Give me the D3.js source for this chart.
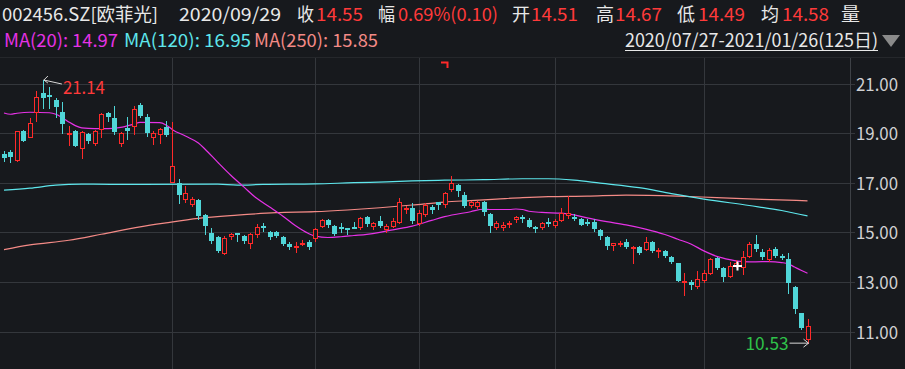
<!DOCTYPE html>
<html>
<head>
<meta charset="utf-8">
<script src="https://cdn.jsdelivr.net/npm/d3@7"></script>
<style>
  html, body { margin: 0; padding: 0; background: #17191d; }
  svg { display: block; }
</style>
</head>
<body>
<div id="chart"></div>
<script>
(function(){
    const width = 905;
    const height = 369;

    // daily candles 2020/07/27 - 2021/01/26 (125 days)
    const opens = [18.14,18.22,17.92,19.10,18.86,19.85,20.60,20.54,20.35,19.85,18.98,19.10,18.40,18.97,18.60,19.17,19.81,19.62,18.60,19.22,
        19.30,20.13,19.63,18.83,18.96,19.23,17.04,16.97,16.33,16.14,16.30,15.70,14.98,14.82,14.15,14.85,14.98,14.85,14.55,14.92,
        15.25,15.00,15.03,14.83,14.53,14.41,14.51,14.62,14.76,15.26,15.50,15.26,15.23,15.16,15.20,15.20,15.63,15.26,15.47,15.12,
        15.26,15.43,15.93,16.00,15.39,15.74,16.03,16.21,16.14,16.73,16.90,16.50,16.09,16.06,16.22,15.74,15.20,15.23,15.34,15.55,
        15.60,15.50,15.20,15.20,15.42,15.28,15.50,15.70,15.63,15.52,15.42,15.42,15.09,14.82,14.49,14.56,14.62,14.35,14.40,14.33,
        14.62,14.25,14.26,14.02,13.75,13.00,13.00,12.84,13.08,13.35,13.95,13.55,13.24,13.70,13.62,14.05,14.53,14.22,13.91,14.32,
        14.05,13.91,12.81,11.74,10.69];
    const highs = [18.27,18.30,19.10,19.13,19.62,20.70,21.14,20.86,20.40,20.24,19.27,19.13,19.08,19.00,19.13,19.81,19.85,20.08,19.03,19.65,
        20.08,20.20,19.77,19.09,19.19,19.50,19.46,17.13,16.86,16.43,16.35,15.73,15.16,14.85,14.85,14.98,14.98,14.89,14.98,15.33,
        15.38,15.06,15.07,14.85,14.62,14.60,14.67,14.69,15.16,15.52,15.52,15.28,15.39,15.16,15.43,15.60,15.66,15.43,15.66,15.34,
        15.56,16.37,16.06,16.20,15.90,16.17,16.10,16.24,16.64,17.27,16.95,16.64,16.25,16.28,16.25,15.77,15.47,15.43,15.47,15.66,
        15.70,15.56,15.26,15.43,15.56,15.52,15.97,16.46,15.74,15.56,15.52,15.52,15.12,14.85,14.58,14.66,14.72,14.45,14.45,14.80,
        14.66,14.35,14.29,14.05,13.78,13.35,13.08,13.42,13.46,13.95,13.99,13.62,13.82,13.90,14.26,14.59,14.90,14.32,14.36,14.40,
        14.13,14.16,12.84,11.76,11.49];
    const lows = [17.86,17.82,17.86,18.68,18.84,19.50,20.03,20.03,19.65,19.00,18.54,18.46,18.00,18.60,18.54,18.86,19.49,18.97,18.50,18.77,
        18.97,19.63,18.88,18.56,18.60,18.88,17.04,16.20,16.24,16.06,15.55,14.95,14.58,14.20,14.12,14.71,14.66,14.58,14.35,14.82,
        15.06,14.74,14.83,14.49,14.31,14.22,14.49,14.34,14.66,15.23,15.23,14.89,15.03,14.93,15.16,15.12,15.26,15.12,15.20,15.03,
        15.20,15.39,15.77,15.39,15.30,15.66,15.77,15.93,16.03,16.68,16.46,16.03,16.03,16.00,15.70,15.03,15.12,15.09,15.23,15.43,
        15.43,15.20,15.03,15.12,15.26,15.23,15.47,15.56,15.50,15.28,15.28,15.07,14.74,14.31,14.29,14.45,14.35,13.78,14.13,14.29,
        14.22,14.02,14.00,13.75,13.03,12.48,12.70,12.74,13.01,13.32,13.51,13.05,13.19,13.60,13.32,14.00,14.26,13.91,13.86,14.02,
        13.91,12.54,11.74,11.09,10.53];
    const closes = [18.00,18.05,19.10,18.70,19.40,20.46,20.40,20.46,20.05,19.38,19.02,18.50,19.04,18.70,19.10,19.78,19.65,19.04,19.00,19.08,
        19.99,19.69,19.01,18.99,19.15,18.93,17.67,16.50,16.60,16.33,15.65,15.25,14.66,14.26,14.79,14.93,14.93,14.66,14.93,15.23,
        15.20,14.82,14.85,14.53,14.40,14.45,14.55,14.40,15.12,15.50,15.30,14.93,15.12,15.12,15.16,15.56,15.34,15.39,15.26,15.26,
        15.47,16.24,16.00,15.47,15.79,16.10,15.90,16.10,16.60,17.00,16.68,16.06,16.22,16.24,15.83,15.26,15.39,15.30,15.39,15.60,
        15.52,15.23,15.16,15.39,15.36,15.47,15.79,15.79,15.58,15.31,15.36,15.12,14.85,14.45,14.56,14.58,14.40,14.40,14.15,14.60,
        14.26,14.29,14.05,13.82,13.05,13.05,12.88,13.13,13.35,13.91,13.55,13.19,13.65,13.78,14.02,14.53,14.32,13.99,14.29,14.05,
        13.95,12.95,11.90,11.13,11.23];

    // moving averages: [day index, value]
    const ma20 = [[0,19.81],[1,19.76],[2,19.80],[4,19.84],[7,19.82],[8,19.76],[9,19.62],[10,19.45],[11,19.30],[12,19.21],[14,19.18],[16,19.18],
        [18,19.23],[20,19.36],[21,19.43],[24,19.42],[25,19.33],[26,19.14],[28,18.88],[30,18.60],[31,18.36],[33,17.82],[35,17.30],[37,16.83],
        [39,16.37],[41,16.02],[43,15.66],[45,15.26],[47,14.95],[48,14.85],[50,14.79],[52,14.82],[54,14.87],[56,14.92],[58,15.00],[60,15.10],
        [63,15.25],[66,15.48],[68,15.63],[72,15.83],[74,15.93],[75,15.92],[78,15.92],[79,15.94],[80,15.92],[81,15.85],[83,15.80],[86,15.77],
        [88,15.70],[90,15.58],[93,15.43],[96,15.30],[99,15.13],[102,14.91],[104,14.72],[106,14.53],[108,14.25],[110,14.03],[112,13.90],
        [114,13.82],[116,13.81],[118,13.82],[120,13.78],[121,13.73],[122,13.60],[123,13.47],[124,13.35]];
    const ma120 = [[0,16.70],[4,16.78],[8,16.90],[12,16.94],[21,16.93],[33,16.94],[36,16.90],[40,16.93],[48,16.95],[54,17.00],[59,17.03],
        [63,17.07],[68,17.10],[74,17.12],[80,17.16],[84,17.16],[88,17.10],[92,16.98],[98,16.80],[103,16.56],[108,16.34],[115,16.08],
        [120,15.88],[124,15.66]];
    const ma250 = [[0,14.30],[4,14.49],[10,14.68],[15,14.92],[21,15.22],[25,15.38],[30,15.56],[36,15.69],[42,15.79],[48,15.83],[53,15.90],
        [58,15.99],[63,16.10],[68,16.22],[72,16.28],[76,16.34],[80,16.40],[84,16.44],[90,16.46],[96,16.50],[104,16.46],[110,16.40],
        [117,16.33],[124,16.27]];

    const yTicks = [11, 13, 15, 17, 19, 21];
    const monthStarts = [26, 48, 64, 85, 108];   // first trading day of Sep, Oct, Nov, Dec, Jan

    const headerItems = [
        {t: "002456.SZ[欧菲光]", x: 2, w: 156, c: "#e8e8e8"},
        {t: "2020/09/29", x: 179, w: 102, c: "#e8e8e8"},
        {t: "收", x: 297, w: 17, c: "#e8e8e8"},
        {t: "14.55", x: 316, w: 47, c: "#ff3a3a"},
        {t: "幅", x: 378, w: 17, c: "#e8e8e8"},
        {t: "0.69%(0.10)", x: 398, w: 100, c: "#ff3a3a"},
        {t: "开", x: 512, w: 18, c: "#e8e8e8"},
        {t: "14.51", x: 531, w: 47, c: "#ff3a3a"},
        {t: "高", x: 596, w: 18, c: "#e8e8e8"},
        {t: "14.67", x: 615, w: 47, c: "#ff3a3a"},
        {t: "低", x: 677, w: 18, c: "#e8e8e8"},
        {t: "14.49", x: 698, w: 47, c: "#ff3a3a"},
        {t: "均", x: 761, w: 18, c: "#e8e8e8"},
        {t: "14.58", x: 782, w: 47, c: "#ff3a3a"},
        {t: "量", x: 841, w: 19, c: "#e8e8e8"}
    ];
    const maLabels = [
        {t: "MA(20): 14.97", x: 4, w: 114, c: "#e632e6"},
        {t: "MA(120): 16.95", x: 124, w: 127, c: "#5ee6ec"},
        {t: "MA(250): 15.85", x: 254, w: 124, c: "#f48a86"}
    ];
    const rangeLabel = "2020/07/27-2021/01/26(125日)";

    const upColor = "#ff2a2a";
    const downColor = "#50d6d8";
    const bg = "#17191d";
    const gridColor = "#34373c";
    const font = "'Noto Sans CJK SC', 'Noto Sans', sans-serif";

    const svg = d3.select("#chart")
        .append("svg")
        .attr("width", width)
        .attr("height", height)
        .style("background", bg);

    const x = d3.scaleLinear().domain([0, 124]).range([4, 807.5]);
    const y = d3.scaleLinear().domain([11, 21]).range([331.5, 83.5]);
    const px = v => Math.round(v) + 0.5;

    // grid
    svg.append("line")
        .attr("x1", 0).attr("x2", width)
        .attr("y1", 57.5).attr("y2", 57.5)
        .style("stroke", "#25272b");

    svg.selectAll(".hgrid")
        .data(yTicks)
        .enter()
        .append("line")
        .attr("class", "hgrid")
        .attr("x1", 0).attr("x2", 855)
        .attr("y1", d => px(y(d))).attr("y2", d => px(y(d)))
        .style("stroke", gridColor);

    svg.selectAll(".vgrid")
        .data(monthStarts)
        .enter()
        .append("line")
        .attr("class", "vgrid")
        .attr("x1", d => px(x(d))).attr("x2", d => px(x(d)))
        .attr("y1", 58).attr("y2", height)
        .style("stroke", gridColor);

    // right axis
    svg.append("line")
        .attr("x1", 850.5).attr("x2", 850.5)
        .attr("y1", 58).attr("y2", height)
        .style("stroke", "#3e4146");

    svg.selectAll(".ylab")
        .data(yTicks)
        .enter()
        .append("text")
        .attr("class", "ylab")
        .attr("x", 856)
        .attr("y", d => y(d) + 7)
        .attr("textLength", 42)
        .attr("lengthAdjust", "spacingAndGlyphs")
        .style("font-family", font)
        .style("font-size", "18px")
        .style("fill", "#cfd0d2")
        .text(d => d3.format(".2f")(d));

    // moving averages
    const maLine = d3.line()
        .x(d => x(d[0]))
        .y(d => y(d[1]))
        .curve(d3.curveMonotoneX);

    [[ma250, "#f48a86"], [ma120, "#5ee6ec"], [ma20, "#e632e6"]].forEach(([data, color]) => {
        svg.append("path")
            .attr("d", maLine(data))
            .style("fill", "none")
            .style("stroke", color)
            .style("stroke-width", 1.2);
    });

    // candles
    const candles = d3.range(opens.length).map(i => ({
        i: i, o: opens[i], h: highs[i], l: lows[i], c: closes[i], up: closes[i] >= opens[i]
    }));

    const cg = svg.selectAll(".candle")
        .data(candles)
        .enter()
        .append("g")
        .attr("class", "candle");

    cg.append("line")
        .attr("x1", d => px(x(d.i))).attr("x2", d => px(x(d.i)))
        .attr("y1", d => Math.round(y(d.h))).attr("y2", d => Math.round(y(d.l)) + 1)
        .style("stroke", d => d.up ? upColor : downColor)
        .style("stroke-width", 1);

    cg.append("rect")
        .attr("x", d => d.up ? px(x(d.i)) - 2 : px(x(d.i)) - 2.5)
        .attr("width", d => d.up ? 4 : 5)
        .attr("y", d => {
            const top = Math.round(y(Math.max(d.o, d.c)));
            return d.up ? top + 0.5 : top;
        })
        .attr("height", d => {
            const top = Math.round(y(Math.max(d.o, d.c)));
            const bot = Math.round(y(Math.min(d.o, d.c)));
            return d.up ? Math.max(bot - top, 1) : Math.max(bot - top, 2);
        })
        .style("fill", d => d.up ? bg : downColor)
        .style("stroke", d => d.up ? upColor : "none")
        .style("stroke-width", 1);

    // max / min markers
    const iMax = d3.maxIndex(highs);
    const iMin = d3.minIndex(lows);
    const maxPt = [x(iMax) + 1, y(highs[iMax])];
    const minPt = [x(iMin) + 1, y(lows[iMin])];

    svg.append("path")
        .attr("d", `M${maxPt[0] + 4},${maxPt[1] - 4}L${maxPt[0]},${maxPt[1]}L${maxPt[0] + 4},${maxPt[1] + 3}M${maxPt[0]},${maxPt[1]}L${maxPt[0] + 18},${maxPt[1] + 4}`)
        .style("fill", "none")
        .style("stroke", "#d8d8d8")
        .style("stroke-width", 1);
    svg.append("text")
        .attr("x", maxPt[0] + 19)
        .attr("y", maxPt[1] + 14)
        .attr("textLength", 42)
        .attr("lengthAdjust", "spacingAndGlyphs")
        .style("font-family", font)
        .style("font-size", "18px")
        .style("fill", "#ff3a3a")
        .text(d3.format(".2f")(highs[iMax]));

    svg.append("path")
        .attr("d", `M${minPt[0] - 5},${minPt[1] - 4}L${minPt[0]},${minPt[1]}L${minPt[0] - 5},${minPt[1] + 4}M${minPt[0]},${minPt[1]}L${minPt[0] - 19},${minPt[1]}`)
        .style("fill", "none")
        .style("stroke", "#d8d8d8")
        .style("stroke-width", 1);
    svg.append("text")
        .attr("x", minPt[0] - 63)
        .attr("y", minPt[1] + 7)
        .attr("textLength", 43)
        .attr("lengthAdjust", "spacingAndGlyphs")
        .style("font-family", font)
        .style("font-size", "18px")
        .style("fill", "#2fc24a")
        .text(d3.format(".2f")(lows[iMin]));

    // small red marker at the top and mouse cursor
    svg.append("path")
        .attr("d", "M441,62.5H447.5V68")
        .style("fill", "none")
        .style("stroke", "#ff2a2a")
        .style("stroke-width", 2);
    svg.append("path")
        .attr("d", "M733,266H742M737.5,261.5V270.5")
        .style("fill", "none")
        .style("stroke", "#ffffff")
        .style("stroke-width", 2);

    // header
    const header = svg.append("g").style("font-family", font).style("font-size", "18px");
    header.selectAll(".h1")
        .data(headerItems)
        .enter()
        .append("text")
        .attr("x", d => d.x)
        .attr("y", 21)
        .attr("textLength", d => d.w)
        .attr("lengthAdjust", "spacingAndGlyphs")
        .style("fill", d => d.c)
        .text(d => d.t);

    header.selectAll(".h2")
        .data(maLabels)
        .enter()
        .append("text")
        .attr("x", d => d.x)
        .attr("y", 47)
        .attr("textLength", d => d.w)
        .attr("lengthAdjust", "spacingAndGlyphs")
        .style("fill", d => d.c)
        .text(d => d.t);

    header.append("text")
        .attr("x", 625)
        .attr("y", 47)
        .attr("textLength", 253)
        .attr("lengthAdjust", "spacingAndGlyphs")
        .style("fill", "#e8e8e8")
        .text(rangeLabel);
    header.append("line")
        .attr("x1", 625).attr("x2", 878)
        .attr("y1", 50.5).attr("y2", 50.5)
        .style("stroke", "#e8e8e8");
    header.append("path")
        .attr("d", "M882,35H900L891,47Z")
        .style("fill", "#8a8a8a");
})();
</script>
</body>
</html>
